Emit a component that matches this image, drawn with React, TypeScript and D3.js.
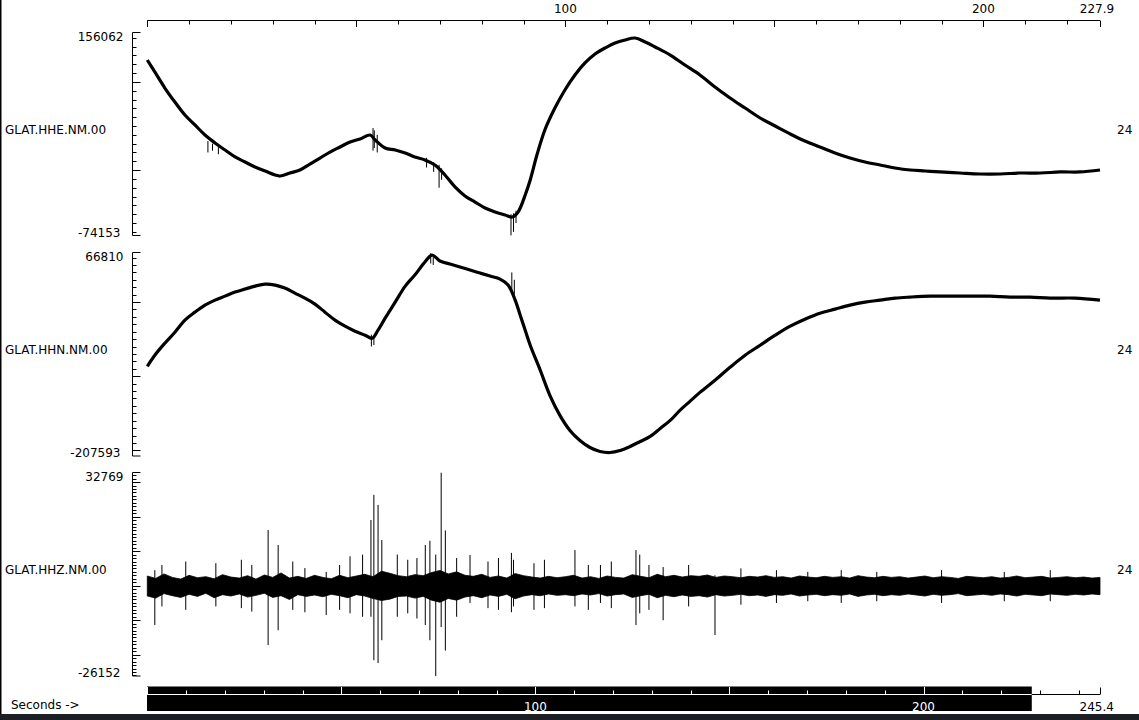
import React from "react";
import * as d3 from "d3";

const W = 1139;
const H = 720;

const TOP_END = 227.9;
const BOTTOM_END = 245.4;
const topLabels = [100, 200];
const bottomLabels = [100, 200];
const windowEnd = 227.9;

const stations = ["GLAT.HHE.NM.00", "GLAT.HHN.NM.00", "GLAT.HHZ.NM.00"];
const gains = ["24", "24", "24"];
const yMax = [156062, 66810, 32769];
const yMin = [-74153, -207593, -26152];
const minorSteps = [10000, 10000, 1000];
const majorSteps = [100000, 100000, 10000];

// HHE trace (seconds, counts)
const heTimes = [0, 1.8, 4.2, 6.6, 9.0, 11.4, 13.8, 16.2, 18.6, 21.0, 23.4, 25.8, 28.2, 30.6, 31.8, 34.1, 36.5, 38.9, 41.3, 43.7, 46.1, 48.5, 50.9, 53.3, 54.5, 56.9, 59.3, 61.7, 64.0, 66.4, 68.8, 71.2, 73.6, 76.0, 78.4, 80.8, 83.2, 85.6, 87.3, 88.7, 90.4, 91.6, 93.2, 95.1, 97.5, 99.9, 102.3, 104.7, 107.1, 109.5, 111.9, 114.3, 116.7, 119.1, 121.5, 125.1, 128.6, 132.2, 135.8, 139.4, 143.0, 146.6, 150.2, 153.8, 157.3, 160.9, 164.5, 168.1, 171.7, 175.3, 178.9, 182.5, 186.1, 189.6, 194.4, 199.2, 204.0, 208.8, 213.6, 218.4, 223.1, 227.9];
const heValues = [124900, 111300, 93100, 77200, 62500, 51200, 39800, 30800, 22800, 14900, 9200, 3500, -1000, -5500, -6700, -3300, 100, 6900, 13700, 20500, 26200, 31900, 35300, 39800, 34200, 25100, 22800, 19400, 14900, 11500, 5800, -5500, -19100, -29300, -36200, -43000, -47500, -50900, -53200, -47500, -28200, -11200, 17100, 45500, 70400, 90900, 107900, 121500, 131700, 138500, 144200, 147600, 149800, 145300, 139600, 130500, 119200, 107900, 94300, 81800, 70400, 59100, 50000, 41000, 33000, 26200, 19400, 13700, 9200, 5800, 2400, 100, -1000, -2100, -3300, -4400, -4400, -3300, -3300, -2100, -2100, 100];
const heSpikeT = [14.5, 15.6, 17.0, 54.0, 54.3, 55.0, 66.8, 68.5, 69.8, 70.4, 87.0, 87.6, 88.2];
const heSpikeHi = [33000, 30000, 26000, 47700, 45000, 40000, 14000, 9000, 6000, 2000, -50000, -49000, -46000];
const heSpikeLo = [20000, 22000, 18000, 22000, 25000, 20000, 3000, -2000, -20000, -11000, -74000, -70000, -60000];

// HHN trace (seconds, counts)
const hnTimes = [0, 1.8, 4.2, 6.6, 9.0, 11.4, 13.8, 16.2, 18.6, 21.0, 23.4, 25.8, 28.2, 30.6, 32.9, 35.3, 37.7, 40.1, 42.5, 44.9, 47.3, 49.7, 52.1, 53.8, 55.2, 56.9, 59.3, 61.7, 64.0, 66.4, 68.1, 70.0, 72.4, 74.8, 77.2, 79.6, 82.0, 84.4, 86.3, 88.0, 89.2, 90.4, 91.6, 94.0, 96.3, 98.7, 101.1, 103.5, 105.9, 108.3, 110.7, 113.1, 115.5, 117.9, 120.3, 122.7, 125.1, 127.4, 129.8, 132.2, 135.8, 139.4, 143.0, 146.6, 150.2, 153.8, 157.3, 160.9, 164.5, 168.1, 171.7, 175.3, 178.9, 182.5, 187.3, 192.0, 196.8, 201.6, 206.4, 211.2, 216.0, 221.9, 227.9];
const hnValues = [-86600, -71700, -55500, -40700, -24400, -13600, -4200, 2600, 8000, 13400, 17500, 21500, 24200, 22900, 18800, 12100, 5300, -2800, -13600, -24400, -32500, -39300, -44700, -48800, -37900, -21700, -100, 21500, 36400, 54000, 63400, 55300, 51300, 47200, 43200, 39100, 35000, 31000, 22900, 2600, -17700, -37900, -58200, -92000, -125800, -152800, -173100, -186600, -196100, -201500, -202900, -200200, -194700, -188000, -181200, -170400, -159600, -146100, -133900, -121800, -105500, -88000, -71700, -58200, -44700, -32500, -23100, -15000, -9600, -4200, -100, 2600, 5300, 6700, 8000, 8000, 8000, 8000, 6700, 6700, 5300, 5300, 2600];
const hnSpikeT = [53.6, 54.2, 67.8, 68.4, 87.2, 87.8];
const hnSpikeHi = [-44000, -46000, 66000, 64000, 40000, 30000];
const hnSpikeLo = [-60000, -58000, 52000, 50000, 14000, 10000];

// HHZ trace: envelope every 2 s (counts) and isolated spikes
const hzTimes = d3.range(0, 229, 2);
const hzUpper = [
  2800, 2100, 3400, 2400, 1900, 3000, 2300, 2600, 2000, 3200, 2500,
  2200, 2900, 1900, 3100, 2400, 3700, 2200, 2700, 2100, 3000,
  2400, 2000, 3000, 2300, 2800, 3300, 2600, 4200, 3600, 2900,
  2600, 3200, 2900, 3800, 4400, 3400, 4000, 3000, 2700, 3300,
  2400, 2800, 2200, 3500, 2900, 2500, 2200, 2700, 2300, 2600,
  3000, 2200, 2600, 2100, 2800, 2400, 2200, 3200, 2700, 2300,
  3300, 2600, 3000, 2500, 2900, 2700, 3100, 2400, 2800, 2600,
  2300, 2700, 2500, 2900, 2400, 2600, 2200, 2800, 2500, 2300,
  2700, 2400, 2600, 2200, 2900, 2500, 2300, 2700, 2400, 2600,
  2200, 2500, 2800, 2300, 2600, 2400, 2100, 2700, 2500, 2300,
  2600, 2200, 2400, 2800, 2300, 2500, 2700, 2200, 2400, 2600,
  2300, 2500, 2200, 2400,
];
const hzLower = [
  -3000, -3600, -2300, -2900, -3400, -2500, -3100, -2200, -3500, -2600, -3000,
  -2400, -3300, -2800, -2200, -3400, -2900, -4000, -2600, -3100, -2700,
  -3200, -2500, -2900, -3500, -2600, -3000, -3700, -4300, -3900, -3100,
  -3000, -3600, -3100, -4200, -4800, -3700, -4200, -3300, -2900, -3500,
  -2700, -3100, -2500, -3800, -3000, -2600, -2900, -2400, -2800, -2600,
  -2900, -2400, -2700, -2300, -3000, -2600, -2400, -3400, -2900, -2500,
  -3500, -2800, -3200, -2700, -3100, -2900, -3300, -2600, -3000, -2800,
  -2500, -2900, -2700, -3100, -2600, -2800, -2400, -3000, -2700, -2500,
  -2900, -2600, -2800, -2400, -3100, -2700, -2500, -2900, -2600, -2800,
  -2400, -2700, -3000, -2500, -2800, -2600, -2300, -2900, -2700, -2500,
  -2800, -2400, -2600, -3000, -2500, -2700, -2900, -2400, -2600, -2800,
  -2500, -2700, -2400, -2600,
];
const hzSpikeT = [1.8, 3.5, 9.2, 16.4, 22.5, 25.0, 28.9, 31.3, 34.8, 37.7, 42.8, 46.0, 48.5, 51.5, 53.5, 54.2, 55.2, 56.1, 59.8, 62.3, 64.5, 66.5, 67.6, 69.0, 70.3, 71.3, 74.0, 77.2, 81.5, 84.0, 87.1, 87.6, 92.5, 95.0, 102.3, 105.5, 108.4, 111.0, 116.9, 117.8, 120.0, 123.4, 129.5, 135.8, 142.0, 150.5, 158.0, 166.0, 174.5, 190.0, 205.0, 216.0];
const hzSpikeHi = [4500, 6000, 7000, 6500, 7500, 6000, 16100, 11800, 7000, 5100, 4000, 6000, 8500, 9000, 19000, 26300, 23400, 13200, 9000, 7500, 8000, 11800, 13000, 9000, 32700, 16000, 8000, 8900, 7000, 8000, 9500, 7500, 6500, 7500, 10300, 6000, 6000, 7000, 10300, 9000, 6000, 5400, 6000, 3000, 5000, 4500, 4000, 4500, 4000, 4500, 4000, 4500];
const hzSpikeLo = [-11400, -6000, -7000, -6000, -6500, -7500, -17200, -12900, -7000, -7700, -8500, -7000, -8000, -9000, -9000, -21600, -22400, -15800, -9000, -8000, -9500, -11400, -15800, -26200, -12000, -18800, -9000, -5000, -6500, -7000, -7700, -6000, -7000, -6500, -6000, -7000, -5000, -6500, -11400, -8000, -7000, -10000, -6000, -14300, -5500, -5000, -4500, -5000, -4500, -5000, -4500, -4500];

const FONT = "DejaVu Sans, sans-serif";
const FS = 12;

const panelTop = [32.5, 252.5, 472.5];
const panelBottom = [235.5, 456, 676];
const AXIS_X = 132.5;

function YAxis({ i }: { i: number }) {
  const y = d3.scaleLinear().domain([yMin[i], yMax[i]]).range([panelBottom[i], panelTop[i]]);
  const minor = d3.range(Math.ceil(yMin[i] / minorSteps[i]) * minorSteps[i], yMax[i], minorSteps[i]);
  const mid = (panelTop[i] + panelBottom[i]) / 2;
  return (
    <g>
      <line x1={AXIS_X} x2={AXIS_X} y1={panelTop[i]} y2={panelBottom[i]} stroke="#000" strokeWidth={1} />
      <line x1={AXIS_X} x2={AXIS_X + 8} y1={panelTop[i]} y2={panelTop[i]} stroke="#000" />
      <line x1={AXIS_X} x2={AXIS_X + 8} y1={panelBottom[i]} y2={panelBottom[i]} stroke="#000" />
      {minor.map((v) => {
        const major = Math.abs(v % majorSteps[i]) < 1e-6;
        const yy = Math.round(y(v)) + 0.5;
        return <line key={v} x1={AXIS_X} x2={AXIS_X + (major ? 8 : 4)} y1={yy} y2={yy} stroke="#000" />;
      })}
      <text x={123.5} y={panelTop[i] + 8} textAnchor="end" fontFamily={FONT} fontSize={FS}>{yMax[i]}</text>
      <text x={120.5} y={panelBottom[i] + 1} textAnchor="end" fontFamily={FONT} fontSize={FS}>{yMin[i]}</text>
      <text x={5} y={mid} fontFamily={FONT} fontSize={FS}>{stations[i]}</text>
      <text x={1117} y={mid} fontFamily={FONT} fontSize={FS}>{gains[i]}</text>
    </g>
  );
}

function Trace({ i, times, values, sT, sHi, sLo, x }: any) {
  const y = d3.scaleLinear().domain([yMin[i], yMax[i]]).range([panelBottom[i], panelTop[i]]);
  const line = d3
    .line<number>()
    .x((_, k) => x(times[k]))
    .y((v) => y(v))
    .curve(d3.curveCatmullRom);
  return (
    <g>
      <path d={line(values) || ""} fill="none" stroke="#000" strokeWidth={3.2} strokeLinejoin="round" />
      {sT.map((t: number, k: number) => (
        <line key={k} x1={x(t)} x2={x(t)} y1={y(sHi[k])} y2={y(sLo[k])} stroke="#000" strokeWidth={1} />
      ))}
    </g>
  );
}

function NoiseTrace({ x }: any) {
  const i = 2;
  const y = d3.scaleLinear().domain([yMin[i], yMax[i]]).range([panelBottom[i], panelTop[i]]);
  const area = d3
    .area<number>()
    .x((t) => x(Math.min(t, TOP_END)))
    .y0((_, k) => y(hzLower[k]))
    .y1((_, k) => y(hzUpper[k]));
  return (
    <g>
      <path d={area(hzTimes) || ""} fill="#000" stroke="#000" strokeWidth={0.8} />
      {hzSpikeT.map((t, k) => (
        <line key={k} x1={x(t)} x2={x(t)} y1={y(hzSpikeHi[k])} y2={y(hzSpikeLo[k])} stroke="#000" strokeWidth={1} />
      ))}
    </g>
  );
}

export default function App() {
  const xTop = d3.scaleLinear().domain([0, TOP_END]).range([147.3, 1100]);
  const xBot = d3.scaleLinear().domain([0, BOTTOM_END]).range([147.3, 1099.7]);
  const topTicks = d3.range(0, TOP_END, 10);
  const botTicks = d3.range(0, BOTTOM_END, 10);
  const barEnd = xBot(windowEnd);
  const AX_Y = 694.5;
  return (
    <svg
      width={W}
      height={H}
      viewBox={`0 0 ${W} ${H}`}
      style={{ position: "absolute", left: 0, top: 0, background: "#fff" }}
    >
      <rect x={0} y={0} width={W} height={H} fill="#fff" />
      {/* top time axis */}
      <line x1={147.3} x2={1100} y1={20.5} y2={20.5} stroke="#000" />
      {topTicks.map((t) => {
        const major = t % 50 === 0;
        const xx = Math.round(xTop(t)) + 0.5;
        return <line key={t} x1={xx} x2={xx} y1={20.5} y2={major ? 27 : 24.5} stroke="#000" />;
      })}
      <line x1={1100.5} x2={1100.5} y1={20.5} y2={27} stroke="#000" />
      {topLabels.map((t) => (
        <text key={t} x={xTop(t)} y={12.5} textAnchor="middle" fontFamily={FONT} fontSize={FS}>{t}</text>
      ))}
      <text x={xTop(TOP_END) - 3} y={12.5} textAnchor="middle" fontFamily={FONT} fontSize={FS}>{TOP_END}</text>

      {[0, 1, 2].map((i) => <YAxis key={i} i={i} />)}

      <Trace i={0} times={heTimes} values={heValues} sT={heSpikeT} sHi={heSpikeHi} sLo={heSpikeLo} x={xTop} />
      <Trace i={1} times={hnTimes} values={hnValues} sT={hnSpikeT} sHi={hnSpikeHi} sLo={hnSpikeLo} x={xTop} />
      <NoiseTrace x={xTop} />

      {/* bottom seconds axis */}
      <text x={11} y={709} fontFamily={FONT} fontSize={FS}>Seconds -&gt;</text>
      <rect x={147} y={686.5} width={barEnd - 147} height={24.5} fill="#000" />
      <line x1={147.3} x2={barEnd} y1={AX_Y} y2={AX_Y} stroke="#fff" />
      <line x1={barEnd} x2={1100} y1={AX_Y} y2={AX_Y} stroke="#000" />
      {botTicks.map((t) => {
        const major = t % 50 === 0;
        const xx = Math.round(xBot(t)) + 0.5;
        const inBar = xx < barEnd;
        return <line key={t} x1={xx} x2={xx} y1={AX_Y} y2={major ? 687 : 690.5} stroke={inBar ? "#fff" : "#000"} />;
      })}
      <line x1={1100.5} x2={1100.5} y1={AX_Y} y2={687.5} stroke="#000" />
      {bottomLabels.map((t) => (
        <text key={t} x={xBot(t)} y={710.5} textAnchor="middle" fill="#fff" fontFamily={FONT} fontSize={FS}>{t}</text>
      ))}
      <text x={xBot(BOTTOM_END) - 3} y={710.5} textAnchor="middle" fontFamily={FONT} fontSize={FS}>{BOTTOM_END}</text>

      {/* window frame */}
      <rect x={0} y={0} width={1.5} height={H} fill="#000" />
      <rect x={0} y={714} width={W} height={6} fill="#1c1f24" />
    </svg>
  );
}
